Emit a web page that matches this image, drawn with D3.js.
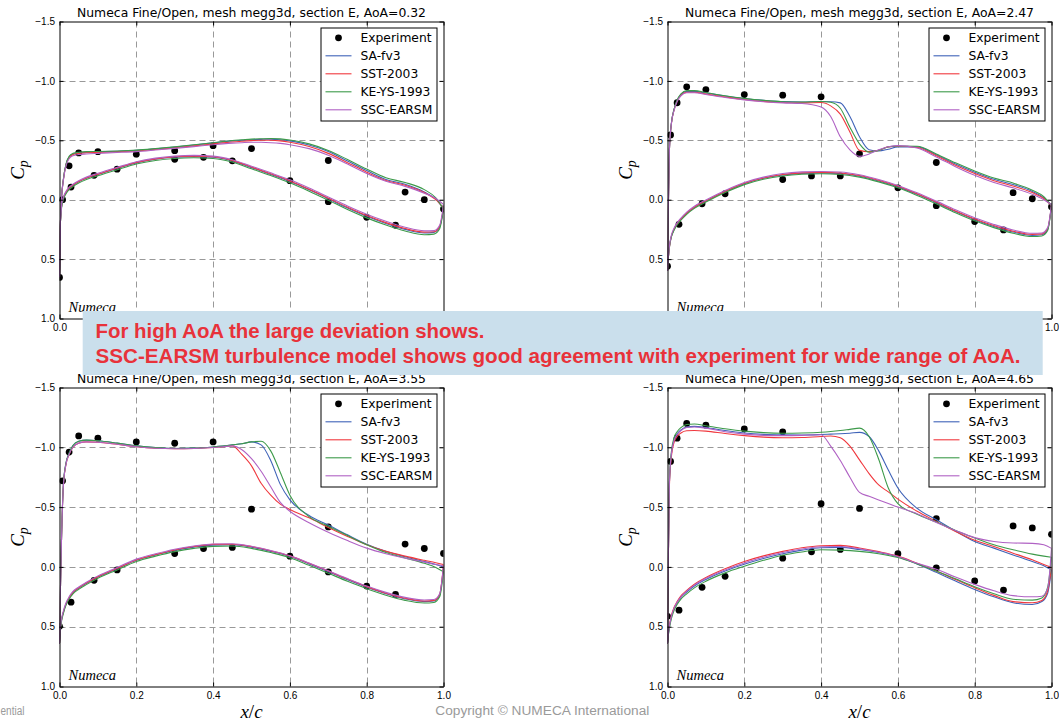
<!DOCTYPE html>
<html><head><meta charset="utf-8">
<script src="https://cdn.jsdelivr.net/npm/d3@7"></script>
<style>body{margin:0;background:#fff} svg{display:block}</style>
</head><body><svg id="c" width="1059" height="724"></svg>
<script>
// ---------- DATA ----------
const models = ["SA-fv3", "SST-2003", "KE-YS-1993", "SSC-EARSM"];
const modelColors = ["#3f63b8", "#f0383e", "#3d9a4a", "#b062c4"];
const xTicks = [0, 0.2, 0.4, 0.6, 0.8, 1.0];
const yTicks = [-1.5, -1.0, -0.5, 0.0, 0.5, 1.0];
const titles = ["Numeca Fine/Open, mesh megg3d, section E, AoA=0.32",
                "Numeca Fine/Open, mesh megg3d, section E, AoA=2.47",
                "Numeca Fine/Open, mesh megg3d, section E, AoA=3.55",
                "Numeca Fine/Open, mesh megg3d, section E, AoA=4.65"];

const xUpper = [0, 0.002, 0.005, 0.01, 0.017, 0.025, 0.035, 0.05, 0.07, 0.1, 0.15, 0.2, 0.25, 0.3, 0.35, 0.4, 0.425, 0.45, 0.475, 0.5, 0.525, 0.55, 0.575, 0.6, 0.65, 0.7, 0.75, 0.8, 0.85, 0.9, 0.95, 0.98, 1.0];
const xLower = [0, 0.002, 0.005, 0.01, 0.017, 0.025, 0.035, 0.05, 0.07, 0.1, 0.15, 0.2, 0.25, 0.3, 0.35, 0.4, 0.45, 0.5, 0.55, 0.6, 0.65, 0.7, 0.75, 0.8, 0.85, 0.9, 0.95, 0.975, 0.99, 1.0];
const expUpperX = [0, 0.008, 0.025, 0.05, 0.1, 0.2, 0.3, 0.4, 0.5, 0.7, 0.9, 0.95, 1.0];
const expLowerX = [0.03, 0.09, 0.15, 0.3, 0.375, 0.45, 0.6, 0.7, 0.8, 0.875];

// AoA = 0.32
const a032ExpUpper = [0.654, 0.0, -0.285, -0.394, -0.404, -0.383, -0.413, -0.455, -0.43, -0.33, -0.064, 0.0, 0.078];
const a032ExpLower = [-0.106, -0.205, -0.257, -0.34, -0.357, -0.327, -0.16, 0.017, 0.148, 0.215];
const a032UpSA  = [0.65, 0.25, 0.0, -0.17, -0.30, -0.36, -0.385, -0.395, -0.40, -0.403, -0.408, -0.415, -0.428, -0.443, -0.46, -0.478, -0.487, -0.495, -0.50, -0.505, -0.508, -0.51, -0.505, -0.495, -0.46, -0.405, -0.325, -0.245, -0.17, -0.13, -0.065, -0.005, 0.075];
const a032UpSST = [0.65, 0.25, 0.0, -0.165, -0.295, -0.355, -0.38, -0.39, -0.395, -0.398, -0.403, -0.41, -0.422, -0.437, -0.453, -0.47, -0.478, -0.486, -0.492, -0.497, -0.50, -0.50, -0.495, -0.483, -0.447, -0.39, -0.312, -0.232, -0.162, -0.122, -0.06, 0.0, 0.07];
const a032UpKE  = [0.65, 0.25, 0.0, -0.17, -0.30, -0.365, -0.39, -0.40, -0.405, -0.406, -0.41, -0.417, -0.43, -0.445, -0.462, -0.48, -0.49, -0.498, -0.504, -0.51, -0.513, -0.515, -0.512, -0.502, -0.47, -0.415, -0.338, -0.258, -0.185, -0.145, -0.085, -0.015, 0.08];
const a032UpSSC = [0.65, 0.25, 0.0, -0.16, -0.285, -0.345, -0.37, -0.38, -0.385, -0.39, -0.397, -0.405, -0.418, -0.432, -0.447, -0.463, -0.47, -0.476, -0.48, -0.483, -0.483, -0.48, -0.474, -0.463, -0.43, -0.375, -0.30, -0.22, -0.155, -0.112, -0.055, -0.01, 0.04];
const a032LoSA  = [0.65, 0.22, 0.07, -0.01, -0.06, -0.095, -0.12, -0.15, -0.18, -0.212, -0.262, -0.31, -0.34, -0.357, -0.363, -0.357, -0.327, -0.27, -0.213, -0.153, -0.083, -0.008, 0.07, 0.14, 0.2, 0.25, 0.28, 0.275, 0.23, 0.075];
const a032LoSST = [0.65, 0.22, 0.07, -0.012, -0.062, -0.097, -0.123, -0.153, -0.183, -0.215, -0.266, -0.314, -0.344, -0.361, -0.367, -0.361, -0.331, -0.275, -0.218, -0.158, -0.088, -0.013, 0.063, 0.133, 0.193, 0.243, 0.273, 0.27, 0.225, 0.07];
const a032LoKE  = [0.65, 0.23, 0.08, 0.0, -0.05, -0.085, -0.11, -0.14, -0.17, -0.202, -0.252, -0.30, -0.33, -0.347, -0.353, -0.347, -0.317, -0.26, -0.203, -0.142, -0.072, 0.004, 0.083, 0.153, 0.213, 0.263, 0.295, 0.29, 0.245, 0.08];
const a032LoSSC = [0.65, 0.21, 0.06, -0.02, -0.07, -0.105, -0.13, -0.16, -0.19, -0.222, -0.272, -0.32, -0.35, -0.367, -0.373, -0.367, -0.337, -0.282, -0.226, -0.167, -0.098, -0.023, 0.052, 0.122, 0.182, 0.232, 0.262, 0.26, 0.215, 0.04];

// AoA = 2.47
const a247ExpUpper = [0.56, -0.545, -0.816, -0.95, -0.927, -0.885, -0.88, -0.866, -0.385, -0.313, -0.059, -0.008, 0.059];
const a247ExpLower = [0.207, 0.034, -0.05, -0.17, -0.20, -0.20, -0.10, 0.05, 0.184, 0.254];
const a247UpSA  = [0.6, 0.1, -0.42, -0.64, -0.76, -0.835, -0.885, -0.912, -0.912, -0.898, -0.873, -0.852, -0.837, -0.826, -0.823, -0.826, -0.825, -0.815, -0.70, -0.53, -0.42, -0.41, -0.425, -0.445, -0.445, -0.378, -0.30, -0.232, -0.172, -0.128, -0.07, -0.015, 0.05];
const a247UpSST = [0.6, 0.1, -0.42, -0.635, -0.755, -0.83, -0.88, -0.905, -0.905, -0.89, -0.865, -0.843, -0.828, -0.818, -0.815, -0.818, -0.79, -0.72, -0.57, -0.415, -0.405, -0.415, -0.445, -0.45, -0.44, -0.37, -0.29, -0.22, -0.16, -0.115, -0.06, -0.01, 0.05];
const a247UpKE  = [0.6, 0.1, -0.42, -0.64, -0.76, -0.838, -0.89, -0.918, -0.918, -0.902, -0.875, -0.853, -0.836, -0.825, -0.822, -0.826, -0.82, -0.77, -0.61, -0.47, -0.40, -0.415, -0.445, -0.452, -0.45, -0.385, -0.31, -0.242, -0.182, -0.14, -0.08, -0.025, 0.05];
const a247UpSSC = [0.6, 0.1, -0.42, -0.635, -0.75, -0.825, -0.875, -0.9, -0.9, -0.885, -0.86, -0.84, -0.825, -0.815, -0.81, -0.78, -0.70, -0.53, -0.42, -0.365, -0.385, -0.42, -0.445, -0.455, -0.435, -0.36, -0.278, -0.205, -0.145, -0.10, -0.045, 0.0, 0.04];
const a247LoSA  = [0.6, 0.50, 0.40, 0.31, 0.25, 0.205, 0.165, 0.115, 0.065, 0.012, -0.068, -0.135, -0.18, -0.208, -0.222, -0.226, -0.22, -0.198, -0.158, -0.108, -0.045, 0.025, 0.10, 0.168, 0.225, 0.272, 0.30, 0.295, 0.25, 0.05];
const a247LoSST = [0.6, 0.50, 0.40, 0.31, 0.25, 0.205, 0.163, 0.113, 0.063, 0.01, -0.07, -0.138, -0.183, -0.212, -0.226, -0.23, -0.225, -0.203, -0.163, -0.113, -0.05, 0.02, 0.095, 0.162, 0.218, 0.265, 0.292, 0.288, 0.245, 0.05];
const a247LoKE  = [0.6, 0.50, 0.40, 0.315, 0.258, 0.213, 0.173, 0.123, 0.073, 0.02, -0.06, -0.127, -0.172, -0.2, -0.214, -0.218, -0.212, -0.19, -0.15, -0.1, -0.036, 0.035, 0.11, 0.178, 0.235, 0.282, 0.31, 0.305, 0.26, 0.05];
const a247LoSSC = [0.6, 0.49, 0.39, 0.30, 0.24, 0.195, 0.155, 0.105, 0.055, 0.002, -0.078, -0.145, -0.19, -0.22, -0.234, -0.238, -0.233, -0.21, -0.17, -0.12, -0.058, 0.012, 0.085, 0.152, 0.208, 0.255, 0.283, 0.28, 0.235, 0.04];

// AoA = 3.55
const a355ExpUpper = [0.497, -0.72, -0.96, -1.095, -1.076, -1.045, -1.034, -1.045, -0.483, -0.334, -0.191, -0.154, -0.112];
const a355ExpLower = [0.295, 0.112, 0.025, -0.112, -0.154, -0.163, -0.09, 0.042, 0.16, 0.23];
const a355UpSA  = [0.64, 0.25, -0.2, -0.68, -0.87, -0.95, -1.015, -1.05, -1.06, -1.055, -1.035, -1.012, -0.997, -0.99, -0.993, -1.003, -1.01, -1.02, -1.03, -1.045, -1.02, -0.89, -0.69, -0.56, -0.43, -0.35, -0.268, -0.19, -0.13, -0.085, -0.045, -0.02, 0.0];
const a355UpSST = [0.64, 0.25, -0.2, -0.67, -0.86, -0.94, -1.0, -1.035, -1.045, -1.042, -1.025, -1.005, -0.992, -0.988, -0.99, -0.998, -1.005, -1.012, -0.94, -0.845, -0.70, -0.60, -0.525, -0.48, -0.41, -0.33, -0.255, -0.185, -0.13, -0.09, -0.055, -0.035, -0.02];
const a355UpKE  = [0.64, 0.25, -0.2, -0.68, -0.87, -0.95, -1.015, -1.05, -1.06, -1.055, -1.035, -1.012, -0.997, -0.99, -0.993, -1.003, -1.01, -1.02, -1.03, -1.045, -1.05, -0.97, -0.79, -0.60, -0.42, -0.34, -0.262, -0.185, -0.12, -0.075, -0.03, 0.005, 0.04];
const a355UpSSC = [0.64, 0.25, -0.2, -0.67, -0.86, -0.94, -1.0, -1.035, -1.045, -1.042, -1.025, -1.005, -0.992, -0.988, -0.99, -0.998, -1.005, -1.012, -0.98, -0.905, -0.80, -0.67, -0.54, -0.465, -0.37, -0.29, -0.22, -0.157, -0.11, -0.073, -0.04, -0.02, -0.01];
const a355LoSA  = [0.64, 0.53, 0.45, 0.38, 0.31, 0.26, 0.215, 0.178, 0.138, 0.085, 0.015, -0.055, -0.1, -0.138, -0.165, -0.182, -0.185, -0.165, -0.13, -0.087, -0.025, 0.04, 0.108, 0.17, 0.225, 0.268, 0.29, 0.285, 0.235, 0.0];
const a355LoSST = [0.64, 0.53, 0.45, 0.38, 0.31, 0.26, 0.213, 0.175, 0.135, 0.082, 0.012, -0.058, -0.103, -0.142, -0.17, -0.188, -0.19, -0.17, -0.135, -0.092, -0.03, 0.035, 0.102, 0.165, 0.22, 0.262, 0.285, 0.28, 0.23, -0.02];
const a355LoKE  = [0.64, 0.54, 0.46, 0.39, 0.32, 0.27, 0.225, 0.188, 0.148, 0.095, 0.025, -0.045, -0.09, -0.128, -0.155, -0.172, -0.175, -0.155, -0.12, -0.077, -0.013, 0.053, 0.12, 0.182, 0.237, 0.28, 0.302, 0.297, 0.25, 0.04];
const a355LoSSC = [0.64, 0.52, 0.44, 0.37, 0.30, 0.25, 0.205, 0.168, 0.128, 0.075, 0.005, -0.065, -0.11, -0.148, -0.175, -0.192, -0.193, -0.172, -0.137, -0.093, -0.032, 0.032, 0.098, 0.16, 0.213, 0.255, 0.277, 0.273, 0.225, -0.01];

// AoA = 4.65
const a465ExpUpper = [0.413, -0.882, -1.076, -1.2, -1.185, -1.154, -1.129, -0.528, -0.489, -0.404, -0.343, -0.326, -0.272];
const a465ExpLower = [0.362, 0.171, 0.079, -0.073, -0.126, -0.146, -0.11, 0.008, 0.118, 0.194];
const a465UpSA  = [0.64, 0.0, -0.7, -0.94, -1.06, -1.11, -1.145, -1.17, -1.175, -1.165, -1.14, -1.12, -1.108, -1.104, -1.103, -1.107, -1.11, -1.113, -1.118, -1.125, -1.09, -0.97, -0.81, -0.66, -0.49, -0.395, -0.30, -0.213, -0.157, -0.10, -0.045, -0.01, 0.025];
const a465UpSST = [0.64, 0.0, -0.68, -0.92, -1.04, -1.09, -1.12, -1.138, -1.14, -1.135, -1.115, -1.098, -1.085, -1.08, -1.082, -1.09, -1.095, -1.08, -1.01, -0.895, -0.78, -0.685, -0.627, -0.567, -0.465, -0.38, -0.295, -0.222, -0.17, -0.115, -0.059, -0.02, 0.003];
const a465UpKE  = [0.64, 0.0, -0.72, -0.96, -1.08, -1.13, -1.165, -1.19, -1.195, -1.18, -1.155, -1.135, -1.123, -1.118, -1.12, -1.126, -1.132, -1.14, -1.15, -1.16, -1.09, -0.90, -0.66, -0.53, -0.44, -0.375, -0.305, -0.242, -0.185, -0.143, -0.107, -0.09, -0.08];
const a465UpSSC = [0.64, 0.0, -0.7, -0.94, -1.055, -1.105, -1.14, -1.165, -1.17, -1.16, -1.13, -1.11, -1.1, -1.098, -1.1, -1.105, -1.01, -0.89, -0.75, -0.623, -0.59, -0.56, -0.53, -0.50, -0.445, -0.372, -0.305, -0.245, -0.213, -0.20, -0.197, -0.185, -0.155];
const a465LoSA  = [0.64, 0.57, 0.50, 0.42, 0.35, 0.30, 0.255, 0.21, 0.16, 0.105, 0.035, -0.022, -0.07, -0.11, -0.14, -0.16, -0.163, -0.145, -0.12, -0.085, -0.025, 0.045, 0.118, 0.188, 0.25, 0.30, 0.315, 0.29, 0.22, 0.025];
const a465LoSST = [0.64, 0.56, 0.49, 0.41, 0.34, 0.29, 0.243, 0.197, 0.145, 0.088, 0.015, -0.045, -0.092, -0.13, -0.16, -0.177, -0.18, -0.158, -0.128, -0.09, -0.03, 0.035, 0.105, 0.174, 0.238, 0.29, 0.30, 0.28, 0.2, 0.003];
const a465LoKE  = [0.64, 0.58, 0.51, 0.435, 0.365, 0.315, 0.27, 0.225, 0.175, 0.12, 0.05, -0.005, -0.055, -0.098, -0.125, -0.143, -0.14, -0.13, -0.11, -0.078, -0.025, 0.034, 0.1, 0.166, 0.225, 0.27, 0.278, 0.26, 0.17, -0.08];
const a465LoSSC = [0.64, 0.565, 0.495, 0.415, 0.345, 0.295, 0.25, 0.203, 0.152, 0.096, 0.025, -0.033, -0.08, -0.12, -0.15, -0.168, -0.17, -0.152, -0.123, -0.087, -0.03, 0.02, 0.085, 0.146, 0.2, 0.24, 0.25, 0.245, 0.18, -0.155];

// ---------- LAYOUT ----------
const banner = {x: 82.7, y: 311, w: 960, h: 64};
const panels = [
  {title: titles[0], left: 59.5, top: 21.5, bottom: 318.5, expU: a032ExpUpper, expL: a032ExpLower,
   up: [a032UpSA, a032UpSST, a032UpKE, a032UpSSC], lo: [a032LoSA, a032LoSST, a032LoKE, a032LoSSC]},
  {title: titles[1], left: 667.5, top: 21.5, bottom: 318.5, expU: a247ExpUpper, expL: a247ExpLower,
   up: [a247UpSA, a247UpSST, a247UpKE, a247UpSSC], lo: [a247LoSA, a247LoSST, a247LoKE, a247LoSSC]},
  {title: titles[2], left: 59.5, top: 387.5, bottom: 686.5, expU: a355ExpUpper, expL: a355ExpLower,
   up: [a355UpSA, a355UpSST, a355UpKE, a355UpSSC], lo: [a355LoSA, a355LoSST, a355LoKE, a355LoSSC]},
  {title: titles[3], left: 667.5, top: 387.5, bottom: 686.5, expU: a465ExpUpper, expL: a465ExpLower,
   up: [a465UpSA, a465UpSST, a465UpKE, a465UpSSC], lo: [a465LoSA, a465LoSST, a465LoKE, a465LoSSC]}
];
const plotW = 384;
// text hidden entirely behind the banner is not drawn
const underBanner = (px, py) => px > banner.x + 8 && px < banner.x + banner.w - 8 && py > banner.y && py < banner.y + banner.h;

const svg = d3.select("#c");
svg.append("rect").attr("width", 1059).attr("height", 724).attr("fill", "#fff");
const defs = svg.append("defs");
const fmt = d3.format(".1f");

panels.forEach((p, pi) => {
  const right = p.left + plotW;
  const x = d3.scaleLinear().domain([0, 1]).range([p.left, right]);
  const y = d3.scaleLinear().domain([-1.5, 1.0]).range([p.top, p.bottom]);
  const g = svg.append("g");
  const cid = "clip" + pi;
  defs.append("clipPath").attr("id", cid).append("rect")
    .attr("x", p.left).attr("y", p.top).attr("width", plotW).attr("height", p.bottom - p.top);

  // grid
  const grid = g.append("g").attr("stroke", "#999").attr("stroke-width", 1).attr("stroke-dasharray", "6,4");
  xTicks.slice(1, -1).forEach(t => grid.append("line").attr("x1", Math.round(x(t)) + 0.5).attr("x2", Math.round(x(t)) + 0.5).attr("y1", p.top).attr("y2", p.bottom));
  yTicks.slice(1, -1).forEach(t => grid.append("line").attr("y1", Math.round(y(t)) + 0.5).attr("y2", Math.round(y(t)) + 0.5).attr("x1", p.left).attr("x2", right));

  const data = g.append("g").attr("clip-path", `url(#${cid})`);
  // experiment points
  expUpperX.forEach((xv, i) => data.append("circle").attr("cx", x(xv)).attr("cy", y(p.expU[i])).attr("r", 3.4).attr("fill", "#000"));
  expLowerX.forEach((xv, i) => data.append("circle").attr("cx", x(xv)).attr("cy", y(p.expL[i])).attr("r", 3.4).attr("fill", "#000"));
  // model curves
  const line = d3.line().x(d => x(d[0])).y(d => y(d[1])).curve(d3.curveMonotoneX);
  models.forEach((m, mi) => {
    const up = xUpper.map((xv, i) => [xv, p.up[mi][i]]);
    const lo = xLower.map((xv, i) => [xv, p.lo[mi][i]]);
    [up, lo].forEach(pts => data.append("path").attr("d", line(pts)).attr("fill", "none")
      .attr("stroke", modelColors[mi]).attr("stroke-width", 1.1).attr("stroke-linejoin", "round"));
  });

  // Numeca label
  g.append("text").attr("x", p.left + 9).attr("y", p.bottom - 6.5)
    .attr("font-family", "Liberation Serif").attr("font-style", "italic").attr("font-size", 14.5).text("Numeca");

  // axes
  const axG = g.append("g").attr("font-family", "DejaVu Sans").attr("font-size", 10);
  const ab = axG.append("g").attr("transform", `translate(0,${p.bottom})`)
    .call(d3.axisBottom(x).tickValues(xTicks).tickFormat(fmt).tickSize(-4).tickSizeOuter(0).tickPadding(5));
  const at = axG.append("g").attr("transform", `translate(0,${p.top})`)
    .call(d3.axisTop(x).tickValues(xTicks).tickFormat("").tickSize(-4).tickSizeOuter(0));
  const al = axG.append("g").attr("transform", `translate(${p.left},0)`)
    .call(d3.axisLeft(y).tickValues(yTicks).tickFormat(fmt).tickSize(-4).tickSizeOuter(0).tickPadding(4.5));
  const ar = axG.append("g").attr("transform", `translate(${right},0)`)
    .call(d3.axisRight(y).tickValues(yTicks).tickFormat("").tickSize(-4).tickSizeOuter(0));
  [ab, at, al, ar].forEach(a => { a.selectAll("path,line").attr("stroke", "#000").attr("stroke-width", 1); a.selectAll("text").attr("fill", "#000"); });
  ab.selectAll(".tick text").filter(d => underBanner(x(d), p.bottom + 8)).remove();
  al.selectAll(".tick text").filter(d => underBanner(p.left - 12, y(d))).remove();

  // title
  g.append("text").attr("x", (p.left + right) / 2).attr("y", p.top - 4.5).attr("text-anchor", "middle")
    .attr("font-family", "DejaVu Sans").attr("font-size", 12.4).text(p.title);

  // y label Cp
  const cp = g.append("text").attr("transform", `translate(${p.left - 36},${(p.top + p.bottom) / 2}) rotate(-90)`)
    .attr("text-anchor", "middle").attr("font-family", "Liberation Serif").attr("font-style", "italic").attr("font-size", 19);
  cp.append("tspan").text("C");
  cp.append("tspan").attr("font-size", 14).attr("dy", 4).text("p");

  // x label x/c
  const xly = p.bottom + 31;
  if (!underBanner((p.left + right) / 2, xly - 5)) {
    const xl = g.append("text").attr("x", (p.left + right) / 2).attr("y", xly)
      .attr("text-anchor", "middle").attr("font-family", "Liberation Serif").attr("font-size", 19);
    xl.append("tspan").attr("font-style", "italic").text("x");
    xl.append("tspan").text("/");
    xl.append("tspan").attr("font-style", "italic").text("c");
  }

  // legend
  const lx = right - 122.5, ly = p.top + 6.5;
  const lg = g.append("g");
  lg.append("rect").attr("x", lx).attr("y", ly).attr("width", 116).attr("height", 93)
    .attr("fill", "#fff").attr("stroke", "#000").attr("stroke-width", 1);
  const entries = ["Experiment"].concat(models);
  entries.forEach((name, i) => {
    const cy = ly + 9.8 + 18 * i;
    if (i === 0) lg.append("circle").attr("cx", lx + 17.5).attr("cy", cy).attr("r", 3.4).attr("fill", "#000");
    else lg.append("line").attr("x1", lx + 4.5).attr("x2", lx + 30.5).attr("y1", cy).attr("y2", cy)
      .attr("stroke", modelColors[i - 1]).attr("stroke-width", 1.1);
    lg.append("text").attr("x", lx + 39.5).attr("y", cy + 4.4).attr("font-family", "DejaVu Sans")
      .attr("font-size", 12.3).text(name);
  });
});

// banner
const bg = svg.append("g");
bg.append("rect").attr("x", banner.x).attr("y", banner.y).attr("width", banner.w).attr("height", banner.h).attr("fill", "#cadfec");
bg.append("text").attr("x", 95.5).attr("y", 338.3).attr("font-family", "Liberation Sans").attr("font-weight", "bold")
  .attr("font-size", 20.4).attr("fill", "#e8323a").attr("textLength", 389).attr("lengthAdjust", "spacingAndGlyphs")
  .text("For high AoA the large deviation shows.");
bg.append("text").attr("x", 95.5).attr("y", 363.3).attr("font-family", "Liberation Sans").attr("font-weight", "bold")
  .attr("font-size", 20.4).attr("fill", "#e8323a").attr("textLength", 925).attr("lengthAdjust", "spacingAndGlyphs")
  .text("SSC-EARSM turbulence model shows good agreement with experiment for wide range of AoA.");

// footer
svg.append("text").attr("x", 0.5).attr("y", 715).attr("font-family", "Liberation Sans").attr("font-size", 12.5)
  .attr("fill", "#9a9a9a").attr("textLength", 24).attr("lengthAdjust", "spacingAndGlyphs").text("ential");
svg.append("text").attr("x", 435.3).attr("y", 715).attr("font-family", "Liberation Sans").attr("font-size", 12.5)
  .attr("fill", "#9a9a9a").attr("textLength", 214).attr("lengthAdjust", "spacingAndGlyphs").text("Copyright © NUMECA International");
</script>
</body></html>
